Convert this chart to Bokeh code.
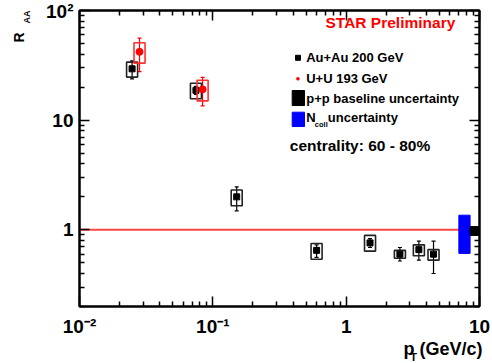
import numpy as np
from bokeh.plotting import figure
from bokeh.models import (FixedTicker, LogAxis, Label, BoxAnnotation, Span, Title,
                          Whisker, TeeHead, ColumnDataSource, Range1d)
from bokeh.embed import file_html
from bokeh.resources import INLINE

# ---------------- data ----------------
# Au+Au 200 GeV
auau_pt = [0.0248, 0.0747, 0.151, 0.60, 1.51, 2.53, 3.51, 4.52]
auau_raa = [29.4, 18.7, 2.0, 0.65, 0.76, 0.60, 0.66, 0.60]
auau_stat_hi = [34.8, 20.3, 2.47, 0.73, 0.83, 0.69, 0.79, 0.79]
auau_stat_lo = [23.8, 17.2, 1.49, 0.56, 0.69, 0.52, 0.53, 0.40]
auau_sys_hi = [33.8, 21.7, 2.31, 0.75, 0.89, 0.65, 0.73, 0.66]
auau_sys_lo = [24.7, 15.7, 1.66, 0.54, 0.64, 0.55, 0.58, 0.53]

# U+U 193 GeV
uu_pt = [0.0282, 0.0838]
uu_raa = [42.0, 19.1]
uu_stat_hi = [56.0, 24.6]
uu_stat_lo = [27.7, 13.5]
uu_sys_hi = [50.8, 23.1]
uu_sys_lo = [33.1, 15.0]

# normalisation uncertainties drawn at R_AA = 1
ncoll_x = [7.0, 8.5]
ncoll_y = [0.61, 1.36]
pp_x = [8.5, 10.0]
pp_y = [0.89, 1.07]

x_ticks = [0.01, 0.1, 1, 10]
x_tick_labels = ["10\u207b\u00b2", "10\u207b\u00b9", "1", "10"]
y_ticks = [1, 10, 100]
y_tick_labels = ["1", "10", "10\u00b2"]

BOX = 1.1  # half-width factor of systematic boxes (log scale)
FONT = "Liberation Sans"

p = figure(width=492, height=363, x_axis_type="log", y_axis_type="log",
           x_range=Range1d(0.01, 10), y_range=Range1d(0.2, 100),
           output_backend="svg", toolbar_location=None,
           min_border_left=79, min_border_right=13, min_border_top=10,
           min_border_bottom=57)
p.xgrid.visible = False
p.ygrid.visible = False
p.outline_line_color = "black"
p.outline_line_width = 2
p.background_fill_color = "white"
p.border_fill_color = "white"

def minors(lo, hi):
    out = []
    for e in range(lo, hi):
        for m in range(2, 10):
            out.append(m * 10.0 ** e)
    return out

def style(ax, labels=True):
    ax.major_tick_in = 10
    ax.major_tick_out = 0
    ax.minor_tick_in = 5
    ax.minor_tick_out = 0
    ax.major_tick_line_width = 1.5
    ax.minor_tick_line_width = 1.5
    ax.axis_line_width = 2
    ax.axis_line_color = "black"
    ax.major_label_text_font = FONT
    ax.major_label_text_font_style = "bold"
    if labels:
        ax.major_label_text_font_size = "19px"
        ax.major_label_text_color = "black"
    else:
        ax.major_label_text_font_size = "2px"
        ax.major_label_text_alpha = 0.0
        ax.major_label_standoff = 0

xa = p.xaxis[0]
xa.ticker = FixedTicker(ticks=x_ticks, minor_ticks=minors(-2, 1))
xa.major_label_overrides = dict(zip(x_ticks, x_tick_labels))
style(xa)
xa.major_label_standoff = 9

ya = p.yaxis[0]
ya.ticker = FixedTicker(ticks=y_ticks, minor_ticks=minors(-1, 2))
ya.major_label_overrides = dict(zip(y_ticks, y_tick_labels))
style(ya)
ya.major_label_standoff = 6

top_ax = LogAxis(ticker=FixedTicker(ticks=x_ticks, minor_ticks=minors(-2, 1)))
style(top_ax, labels=False)
p.add_layout(top_ax, "above")
right_ax = LogAxis(ticker=FixedTicker(ticks=y_ticks, minor_ticks=minors(-1, 2)))
style(right_ax, labels=False)
p.add_layout(right_ax, "right")

# unity line
p.add_layout(Span(location=1.0, dimension="width", line_color="#ff4646",
                  line_width=2, level="underlay"))

# normalisation boxes
p.quad(left=[ncoll_x[0]], right=[ncoll_x[1]], bottom=[ncoll_y[0]], top=[ncoll_y[1]],
       fill_color="#0000ff", line_color="#0000ff")
p.quad(left=[pp_x[0]], right=[pp_x[1]], bottom=[pp_y[0]], top=[pp_y[1]],
       fill_color="black", line_color="black")

def series(pt, raa, shi, slo, syhi, sylo, color, boxcolor, marker, size):
    pt = np.array(pt)
    src = ColumnDataSource(dict(x=pt, y=raa, hi=shi, lo=slo,
                                l=pt / BOX, r=pt * BOX, t=syhi, b=sylo))
    p.quad(left="l", right="r", top="t", bottom="b", source=src,
           fill_alpha=0, line_color=boxcolor, line_width=1.6)
    p.add_layout(Whisker(source=src, base="x", upper="hi", lower="lo",
                         dimension="height", line_color=color, line_width=1.2,
                         upper_head=TeeHead(size=4, line_color=color, line_width=1.2),
                         lower_head=TeeHead(size=4, line_color=color, line_width=1.2)))
    p.scatter("x", "y", source=src, marker=marker, size=size,
              fill_color=color, line_color=color)

series(auau_pt, auau_raa, auau_stat_hi, auau_stat_lo, auau_sys_hi, auau_sys_lo,
       "black", "#222222", "square", 6)
series(uu_pt, uu_raa, uu_stat_hi, uu_stat_lo, uu_sys_hi, uu_sys_lo,
       "#ff0000", "#ff3030", "circle", 7)

def lab(text, x, y, size, color="black", align="left", baseline="middle"):
    p.add_layout(Label(text=text, x=x, y=y, x_units="screen", y_units="screen",
                       text_font=FONT, text_font_style="bold",
                       text_font_size=f"{size}px", text_color=color,
                       text_align=align, text_baseline=baseline))

def sbox(l, r, b, t, color):
    p.add_layout(BoxAnnotation(left=l, right=r, bottom=b, top=t,
                               left_units="screen", right_units="screen",
                               bottom_units="screen", top_units="screen",
                               fill_color=color, fill_alpha=1.0,
                               line_color=color, line_alpha=1.0, level="overlay"))

# legend / annotations (frame-relative screen units)
lab("STAR Preliminary", 246, 284, 15.5, color="#ff0000")
sbox(216, 221, 246.2, 251.2, "black")
lab("Au+Au 200 GeV", 226.7, 248.7, 13)
lab("\u25cf", 218.5, 228.5, 8, color="#ff0000", align="center")
lab("U+U 193 GeV", 226.7, 228, 13)
sbox(212.7, 225, 201, 216, "black")
lab("p+p baseline uncertainty", 226.7, 208, 13)
sbox(212.7, 225, 180, 194.3, "#0000ff")
lab("N", 226.7, 189, 13)
lab("coll", 235.3, 182.5, 7.5)
lab("uncertainty", 248.3, 189, 13)
lab("centrality: 60 - 80%", 210.3, 161, 15.5)

# axis titles as side-panel titles
def title(text, size, place, standoff, offset):
    p.add_layout(Title(text=text, align="right", text_font=FONT,
                       text_font_style="bold", text_font_size=f"{size}px",
                       text_color="black", standoff=standoff, offset=offset), place)

title("AA", 9, "left", 24, 0)
title("R", 14, "left", -39, 22)
title("p (GeV/c)", 18, "below", -6, -3)
title("T", 11, "below", -14, 62.5)

open("out.html", "w").write(file_html(p, INLINE))
